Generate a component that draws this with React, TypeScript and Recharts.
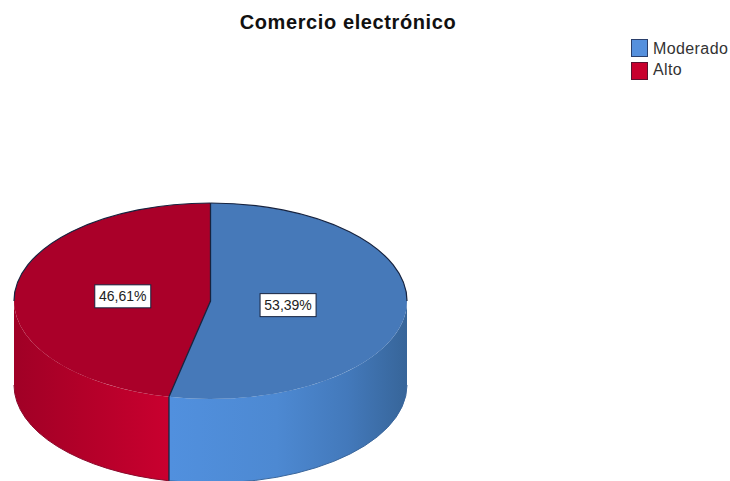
import React from "react";
import { PieChart, Pie, Legend } from "recharts";

const levels = ["Moderado", "Alto"];
const shares = [53.39, 46.61];
const shareLabels = ["53,39%", "46,61%"];
const swatchColors = ["#5590dd", "#c8002e"];
const topColors = ["#4679b9", "#aa0029"];

const tableData = levels.map((name, i) => ({
  name,
  value: shares[i],
  text: shareLabels[i],
  fill: swatchColors[i],
}));

const WIDTH = 730;
const HEIGHT = 481;
const CX = 210.5;
const CY = 301;
const RADIUS = 196.5;
const SQUASH = 0.4987; // vertical flattening of the disc
const DEPTH = 84; // wall height of the disc
const EDGE = "#17233f";
const LABEL_REACH = [0.397, 0.449];

const RAD = Math.PI / 180;
const px = (cx: number, r: number, deg: number) => cx + r * Math.cos(deg * RAD);
const py = (cy: number, r: number, deg: number) => cy - r * SQUASH * Math.sin(deg * RAD);

function arcTo(cx: number, cy: number, r: number, from: number, to: number, dy = 0) {
  const large = Math.abs(from - to) > 180 ? 1 : 0;
  const sweep = from > to ? 1 : 0;
  return `A ${r} ${r * SQUASH} 0 ${large} ${sweep} ${px(cx, r, to)} ${py(cy, r, to) + dy}`;
}

// One wedge of the disc: visible wall first, then the flattened top face.
function DiscSlice(props: any) {
  const { cx, cy, outerRadius: r, startAngle, endAngle, index, name } = props;
  const i = index ?? levels.indexOf(name);
  const wallFrom = Math.min(startAngle, 0);
  const wallTo = Math.max(endAngle, -180);
  const hasWall = wallFrom > wallTo;
  const gradId = `wall-${i}`;

  const wall = hasWall
    ? `M ${px(cx, r, wallFrom)} ${py(cy, r, wallFrom)} ` +
      arcTo(cx, cy, r, wallFrom, wallTo) +
      ` L ${px(cx, r, wallTo)} ${py(cy, r, wallTo) + DEPTH} ` +
      arcTo(cx, cy, r, wallTo, wallFrom, DEPTH) +
      " Z"
    : "";
  const wallBottom = hasWall
    ? `M ${px(cx, r, wallFrom)} ${py(cy, r, wallFrom) + DEPTH} ` + arcTo(cx, cy, r, wallFrom, wallTo, DEPTH)
    : "";
  const top =
    `M ${cx} ${cy} L ${px(cx, r, startAngle)} ${py(cy, r, startAngle)} ` +
    arcTo(cx, cy, r, startAngle, endAngle) +
    " Z";

  // Only the back half of the rim carries the dark outline.
  const rimFrom = Math.max(startAngle > 0 ? startAngle : 0, 0);
  const backRim =
    i === 0
      ? `M ${px(cx, r, rimFrom)} ${py(cy, r, rimFrom)} ` + arcTo(cx, cy, r, rimFrom, 0)
      : `M ${px(cx, r, -180)} ${py(cy, r, -180)} ` + arcTo(cx, cy, r, -180, endAngle);
  const spokes =
    `M ${px(cx, r, 90)} ${py(cy, r, 90)} L ${cx} ${cy} L ${px(cx, r, startAngle)} ${py(cy, r, startAngle)}`;
  const seam =
    `M ${px(cx, r, startAngle)} ${py(cy, r, startAngle)} L ${px(cx, r, startAngle)} ${py(cy, r, startAngle) + DEPTH}`;

  return (
    <g>
      <defs>
        {i === 0 ? (
          <linearGradient id={gradId} gradientUnits="userSpaceOnUse" x1={170} y1={0} x2={407} y2={0}>
            <stop offset="0" stopColor="#5190de" />
            <stop offset="0.45" stopColor="#4d89d2" />
            <stop offset="0.75" stopColor="#4379bb" />
            <stop offset="1" stopColor="#376599" />
          </linearGradient>
        ) : (
          <linearGradient id={gradId} gradientUnits="userSpaceOnUse" x1={14} y1={0} x2={170} y2={0}>
            <stop offset="0" stopColor="#a00026" />
            <stop offset="0.45" stopColor="#b30029" />
            <stop offset="1" stopColor="#c9002f" />
          </linearGradient>
        )}
      </defs>
      {hasWall && <path d={wall} fill={`url(#${gradId})`} stroke="none" />}
      {hasWall && <path d={wallBottom} fill="none" stroke={i === 0 ? "#3a669c" : "#8a0a2c"} strokeWidth={1} />}
      <path d={top} fill={topColors[i]} stroke="none" />
      <path d={backRim} fill="none" stroke={EDGE} strokeWidth={1.2} />
      {i === 1 && <path d={spokes} fill="none" stroke={EDGE} strokeWidth={1.3} />}
      {i === 1 && <path d={seam} fill="none" stroke={EDGE} strokeWidth={1.3} />}
    </g>
  );
}

// White boxed percentage placed inside the flattened wedge.
function ShareLabel(props: any) {
  const { cx, cy, outerRadius: r, midAngle, index } = props;
  const reach = r * LABEL_REACH[index];
  const x = px(cx, reach, midAngle);
  const y = py(cy, reach, midAngle);
  return (
    <g>
      <rect x={x - 28} y={y - 11.5} width={56} height={23} fill="#ffffff" stroke={EDGE} strokeWidth={1} />
      <text
        x={x}
        y={y + 5}
        textAnchor="middle"
        fontFamily="'Liberation Sans', Arial, sans-serif"
        fontSize={14}
        fill="#222222"
      >
        {shareLabels[index]}
      </text>
    </g>
  );
}

function LegendList() {
  return (
    <div style={{ fontFamily: "'Liberation Sans', Arial, sans-serif", fontSize: 16, color: "#333333" }}>
      {levels.map((name, i) => (
        <div key={name} style={{ display: "flex", alignItems: "center", height: 22.5 }}>
          <span
            style={{
              display: "inline-block",
              boxSizing: "border-box",
              width: 17,
              height: 18,
              background: swatchColors[i],
              border: `1.5px solid ${i === 0 ? "#2a3f6b" : "#5a1230"}`,
              marginRight: 5,
            }}
          />
          <span
            style={{ letterSpacing: 0.4, whiteSpace: "nowrap", position: "relative", top: i === 0 ? 1 : -1 }}
          >
            {name}
          </span>
        </div>
      ))}
    </div>
  );
}

export default function App() {
  return (
    <div style={{ position: "absolute", left: 0, top: 0, width: WIDTH, height: HEIGHT, overflow: "hidden", background: "#fff" }}>
      <PieChart width={WIDTH} height={HEIGHT} margin={{ top: 0, right: 0, bottom: 0, left: 0 }}>
        <text
          x={348}
          y={29}
          textAnchor="middle"
          fontFamily="'Liberation Sans', Arial, sans-serif"
          fontWeight="bold"
          fontSize={20}
          letterSpacing={0.6}
          fill="#111111"
        >
          Comercio electrónico
        </text>
        <Pie
          data={tableData}
          dataKey="value"
          nameKey="name"
          cx={CX}
          cy={CY}
          innerRadius={0}
          outerRadius={RADIUS}
          startAngle={90}
          endAngle={-270}
          paddingAngle={0}
          stroke="none"
          isAnimationActive={false}
          shape={DiscSlice}
          label={ShareLabel}
          labelLine={false}
        />
        <Legend
          content={() => <LegendList />}
          wrapperStyle={{ position: "absolute", left: 631, top: 37, width: 99, height: 45 }}
        />
      </PieChart>
    </div>
  );
}
